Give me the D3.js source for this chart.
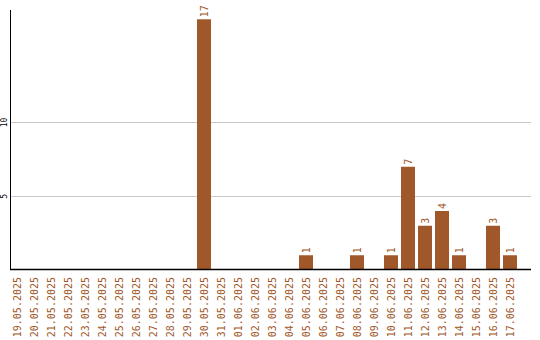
<!DOCTYPE html>
<html>
<head>
<meta charset="utf-8">
<script src="https://cdn.jsdelivr.net/npm/d3@7"></script>
<style>
  body { margin: 0; background: #fff; }
  svg { display: block; }
</style>
</head>
<body>
<div id="chart"></div>
<script>
const dates = [
  "19.05.2025", "20.05.2025", "21.05.2025", "22.05.2025", "23.05.2025",
  "24.05.2025", "25.05.2025", "26.05.2025", "27.05.2025", "28.05.2025",
  "29.05.2025", "30.05.2025", "31.05.2025", "01.06.2025", "02.06.2025",
  "03.06.2025", "04.06.2025", "05.06.2025", "06.06.2025", "07.06.2025",
  "08.06.2025", "09.06.2025", "10.06.2025", "11.06.2025", "12.06.2025",
  "13.06.2025", "14.06.2025", "15.06.2025", "16.06.2025", "17.06.2025"
];
const counts = [0, 0, 0, 0, 0, 0, 0, 0, 0, 0, 0, 17, 0, 0, 0, 0, 0, 1, 0, 0, 1, 0, 1, 7, 3, 4, 1, 0, 3, 1];
const yTicks = [5, 10];

const BROWN = "#A0572A";
const W = 540, H = 340;
const plotL = 10, plotR = 531, plotT = 10, plotB = 270;

const svg = d3.select("#chart").append("svg").attr("width", W).attr("height", H);

const y = d3.scaleLinear().domain([0, 17.63]).range([plotB, plotT]);
const x = d3.scaleBand()
  .domain(dates)
  .range([8.5, 8.5 + 17 * dates.length])
  .paddingInner(3 / 17)
  .paddingOuter(3 / 34);

// gridlines
svg.append("g").selectAll("line").data(yTicks).join("line")
  .attr("x1", plotL).attr("x2", plotR)
  .attr("y1", d => Math.floor(y(d)) + 0.5).attr("y2", d => Math.floor(y(d)) + 0.5)
  .attr("stroke", "#c8c8c8");

// y tick labels (rotated)
svg.append("g").selectAll("text").data(yTicks).join("text")
  .attr("transform", d => `translate(7,${y(d)}) rotate(-90)`)
  .attr("text-anchor", "middle")
  .style("font-family", "DejaVu Sans Mono, monospace")
  .style("font-size", "8px")
  .style("fill", "#000")
  .text(d => d);

// bars
svg.append("g").selectAll("rect").data(counts).join("rect")
  .attr("x", (d, i) => x(dates[i]))
  .attr("width", x.bandwidth())
  .attr("y", d => y(d))
  .attr("height", d => plotB - y(d))
  .attr("fill", BROWN);

// value labels
svg.append("g").selectAll("text").data(counts.map((v, i) => ({ v, i })).filter(d => d.v > 0)).join("text")
  .attr("transform", d => `translate(${x(dates[d.i]) + x.bandwidth() / 2},${y(d.v) - 2}) rotate(-90)`)
  .attr("dy", "0.35em")
  .style("font-family", "DejaVu Sans Mono, monospace")
  .style("font-size", "10px")
  .style("fill", BROWN)
  .text(d => d.v);

// axes lines
svg.append("line").attr("x1", plotL + 0.5).attr("x2", plotL + 0.5).attr("y1", plotT).attr("y2", plotB)
  .attr("stroke", "#000").attr("stroke-width", 1);
svg.append("line").attr("x1", plotL).attr("x2", plotR).attr("y1", plotB - 0.5).attr("y2", plotB - 0.5)
  .attr("stroke", "#000").attr("stroke-width", 1.5);

// x labels
svg.append("g").selectAll("text").data(dates).join("text")
  .attr("transform", d => `translate(${x(d) + x.bandwidth() / 2},277) rotate(-90)`)
  .attr("text-anchor", "end")
  .attr("dy", "0.35em")
  .style("font-family", "DejaVu Sans Mono, monospace")
  .style("font-size", "10px")
  .style("fill", BROWN)
  .text(d => d);
</script>
</body>
</html>
